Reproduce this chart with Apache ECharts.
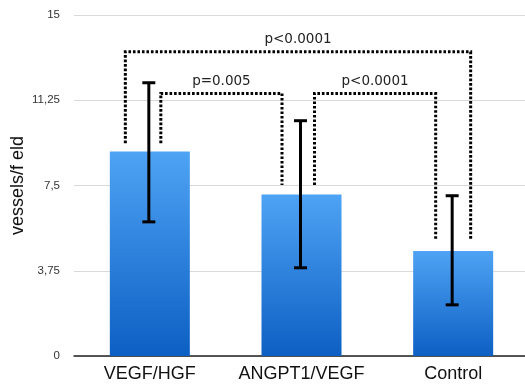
<!DOCTYPE html>
<html><head><meta charset="utf-8">
<script src="https://cdn.jsdelivr.net/npm/echarts@6/dist/echarts.min.js"></script>
<style>html,body{margin:0;padding:0;background:#fff}#c{width:525px;height:386px}</style>
</head><body><div id="c"></div>
<script>
var categories = ['VEGF/HGF', 'ANGPT1/VEGF', 'Control'];
var means = [9.0, 7.1, 4.62];
var errLow = [5.9, 3.88, 2.25];
var errHigh = [12.02, 10.35, 7.05];
var yTicks = [0, 3.75, 7.5, 11.25, 15];
// brackets: [leftCategory, rightCategory, topValue, leftLegEnd, rightLegEnd, label]
var brackets = [
  [0, 2, 13.38, 9.36, 5.1, 'p<0.0001'],
  [0, 1, 11.55, 9.36, 7.52, 'p=0.005'],
  [1, 2, 11.55, 7.52, 5.1, 'p<0.0001']
];
// horizontal pixel offsets of bracket legs from category centers (style)
var legOffsets = [[-24.5, 17.5], [11, -19.5], [13, -17.5]];

var chart = echarts.init(document.getElementById('c'));
chart.setOption({
  animation: false,
  grid: {left: 74, width: 455, top: 15, bottom: 30, containLabel: false, outerBoundsMode: 'none'},
  xAxis: {
    type: 'category', data: categories,
    axisTick: {show: false},
    axisLine: {lineStyle: {color: '#222', width: 1.5}},
    axisLabel: {color: '#111', fontSize: 18, fontFamily: 'Liberation Sans', margin: 9, interval: 0}
  },
  yAxis: {
    type: 'value', min: yTicks[0], max: yTicks[yTicks.length - 1], interval: 3.75,
    name: 'vessels/f eld', nameLocation: 'middle', nameGap: 47, nameMoveOverlap: false,
    nameTextStyle: {color: '#111', fontSize: 18, fontFamily: 'Liberation Sans'},
    axisLine: {show: false}, axisTick: {show: false},
    axisLabel: {color: '#333', fontSize: 11.5, fontFamily: 'Liberation Sans', margin: 14,
      formatter: function (v) { return String(v).replace('.', ','); }},
    splitLine: {lineStyle: {color: '#d9d9d9', width: 1}}
  },
  series: [
    {
      type: 'bar', data: means, barWidth: 80,
      itemStyle: {color: new echarts.graphic.LinearGradient(0, 0, 0, 1, [
        {offset: 0, color: '#4fa3f4'}, {offset: 1, color: '#0d5fc3'}])}
    },
    {
      type: 'custom', z: 5,
      data: categories.map(function (c, i) { return [i, errLow[i], errHigh[i]]; }),
      renderItem: function (params, api) {
        var lo = api.coord([api.value(0), api.value(1)]);
        var hi = api.coord([api.value(0), api.value(2)]);
        var x = lo[0] - 1, hw = 6.5;
        var st = {stroke: '#000', lineWidth: 3};
        return {type: 'group', children: [
          {type: 'line', shape: {x1: x, y1: hi[1], x2: x, y2: lo[1]}, style: st},
          {type: 'line', shape: {x1: x - hw, y1: hi[1], x2: x + hw, y2: hi[1]}, style: st},
          {type: 'line', shape: {x1: x - hw, y1: lo[1], x2: x + hw, y2: lo[1]}, style: st}
        ]};
      }
    },
    {
      type: 'custom', z: 6,
      data: brackets.map(function (b) { return [b[0], b[1], b[2], b[3], b[4]]; }),
      renderItem: function (params, api) {
        var i = params.dataIndex, b = brackets[i], off = legOffsets[i];
        var l = api.coord([b[0], b[3]]);
        var r = api.coord([b[1], b[4]]);
        var top = api.coord([b[0], b[2]])[1];
        var xl = l[0] + off[0], xr = r[0] + off[1];
        return {type: 'group', children: [
          {type: 'polyline', shape: {points: [[xl, l[1]], [xl, top], [xr, top], [xr, r[1]]]},
            style: {stroke: '#000', fill: null, lineWidth: 3, lineDash: [2.6, 1.9], lineCap: 'butt', lineJoin: 'miter'}},
          {type: 'text', x: (xl + xr) / 2, y: top - 5,
            style: {text: b[5], fill: '#222', font: '13.5px "DejaVu Sans"', align: 'center', verticalAlign: 'bottom'}}
        ]};
      }
    }
  ]
});
</script></body></html>
